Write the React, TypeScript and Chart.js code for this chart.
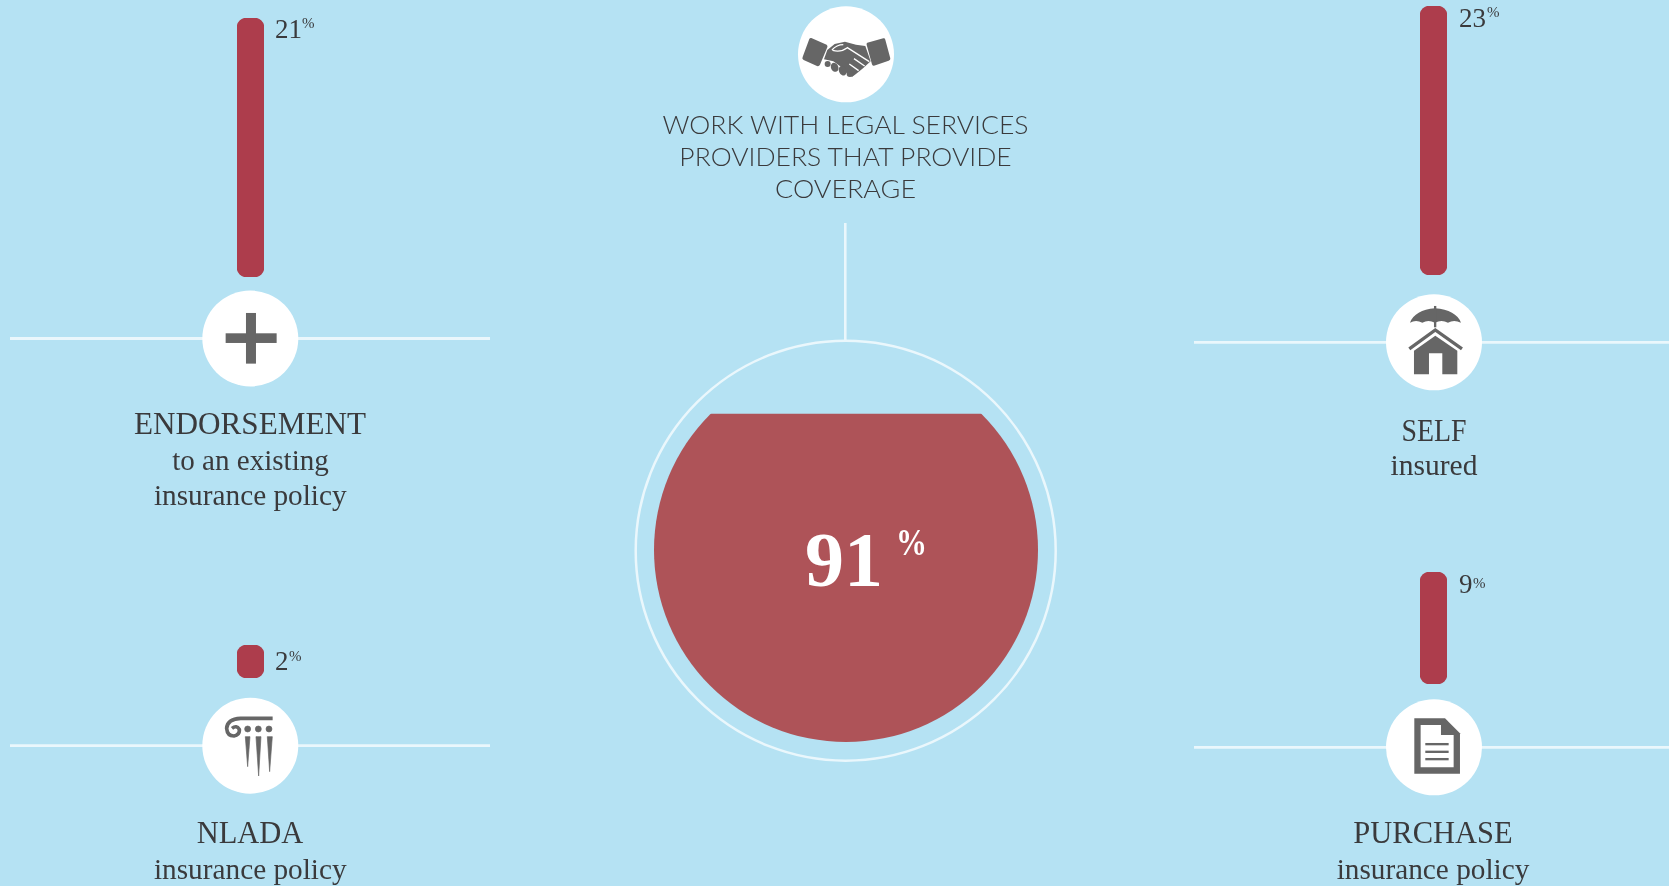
import React, { useEffect, useRef } from "react";
import { Chart, registerables } from "chart.js";

Chart.register(...registerables);

// ---- data ----
const categories = ["ENDORSEMENT", "NLADA", "SELF", "PURCHASE"];
const subtitles = [["to an existing", "insurance policy"], ["insurance policy"], ["insured"], ["insurance policy"]];
const values = [21, 2, 23, 9];
const headline = ["WORK WITH LEGAL SERVICES", "PROVIDERS THAT PROVIDE", "COVERAGE"];
const coverageValue = 91;

// ---- layout ----
const BG = "#b5e2f3";
const BAR = "#ad3d4c";
const BOWL = "#ae5358";
const ICON = "#666666";
const INK = "#3a3a3c";
const LINE = "#eaf7fc";
const SERIF = "'Liberation Serif', serif";
const SANS = "Lato, 'Open Sans', sans-serif";
const PAD = 3;

const barBoxes = [
  { left: 237, top: 17.5, width: 27, height: 259 },
  { left: 237, top: 645, width: 27, height: 33 },
  { left: 1420, top: 6, width: 27, height: 269 },
  { left: 1420, top: 572, width: 27, height: 112 },
];
const bowlBox = { left: 654, top: 358, size: 384, yMax: 106.6 };

const nodes = [
  { cx: 250.3, cy: 338.5, x1: 10, x2: 490 },
  { cx: 250.3, cy: 745.7, x1: 10, x2: 490 },
  { cx: 1434, cy: 342.3, x1: 1194, x2: 1669 },
  { cx: 1434, cy: 747.3, x1: 1194, x2: 1669 },
];
const titleText = [
  { cx: 250, y: 434, w: 232 },
  { cx: 250, y: 843.4, w: 106.7 },
  { cx: 1434, y: 440.6, w: 65 },
  { cx: 1433, y: 843.4, w: 159.3 },
];
const subText = [
  [{ cx: 250.5, y: 470, w: 156.7 }, { cx: 250.3, y: 505, w: 192.7 }],
  [{ cx: 250.3, y: 879, w: 192.7 }],
  [{ cx: 1434, y: 475, w: 87 }],
  [{ cx: 1433, y: 879, w: 192.7 }],
];
const valueText = [
  { x: 275, y: 37.7, px: 302, py: 28 },
  { x: 275, y: 670, px: 289, py: 660.7 },
  { x: 1459, y: 26.7, px: 1487, py: 17 },
  { x: 1459, y: 593, px: 1473, py: 588 },
];
const headlineText = [
  { y: 134, w: 366 },
  { y: 166, w: 332.3 },
  { y: 198, w: 141 },
];

function BarPanel({ value, label, box }: { value: number; label: string; box: (typeof barBoxes)[number] }) {
  const ref = useRef<HTMLCanvasElement>(null);
  const w = box.width + PAD * 2;
  const h = Math.round(box.height) + PAD * 2;
  useEffect(() => {
    const chart = new Chart(ref.current!, {
      type: "bar",
      data: {
        labels: [label],
        datasets: [
          {
            data: [value],
            backgroundColor: BAR,
            borderRadius: 10,
            borderSkipped: false,
            barPercentage: 1,
            categoryPercentage: 1,
          },
        ],
      },
      options: {
        animation: false,
        responsive: false,
        layout: { padding: PAD },
        plugins: { legend: { display: false }, tooltip: { enabled: false } },
        scales: {
          x: { display: false },
          y: { display: false, min: 0, max: value },
        },
      },
    });
    return () => chart.destroy();
  }, [value, label]);
  return (
    <canvas
      ref={ref}
      width={w}
      height={h}
      style={{ position: "absolute", left: box.left - PAD, top: box.top - PAD, width: w, height: h }}
    />
  );
}

const circleClip = {
  id: "circleClip",
  beforeDatasetsDraw(chart: any) {
    const { ctx, width, height } = chart;
    ctx.save();
    ctx.beginPath();
    ctx.arc(width / 2, height / 2, width / 2, 0, Math.PI * 2);
    ctx.clip();
  },
  afterDatasetsDraw(chart: any) {
    chart.ctx.restore();
  },
};

function Bowl() {
  const ref = useRef<HTMLCanvasElement>(null);
  useEffect(() => {
    const chart = new Chart(ref.current!, {
      type: "bar",
      data: {
        labels: ["Work with legal services providers that provide coverage"],
        datasets: [
          {
            data: [coverageValue],
            backgroundColor: BOWL,
            barPercentage: 1,
            categoryPercentage: 1,
          },
        ],
      },
      options: {
        animation: false,
        responsive: false,
        layout: { padding: 0 },
        plugins: { legend: { display: false }, tooltip: { enabled: false } },
        scales: {
          x: { display: false },
          y: { display: false, min: 0, max: bowlBox.yMax },
        },
      },
      plugins: [circleClip],
    });
    return () => chart.destroy();
  }, []);
  return (
    <canvas
      ref={ref}
      width={bowlBox.size}
      height={bowlBox.size}
      style={{ position: "absolute", left: bowlBox.left, top: bowlBox.top, width: bowlBox.size, height: bowlBox.size }}
    />
  );
}

function Handshake() {
  return (
    <g transform="translate(600,0) scale(0.3333)">
      <path d="M634 114 L680 134 Q684 137 682 142 L660 194 Q657 200 651 198 L611 180 Q605 177 608 171 L628 117 Q630 113 634 114Z" fill={ICON} />
      <path d="M802 128 L850 115 Q855 114 856 119 L871 175 Q872 181 866 182 L822 197 Q817 198 816 193 L800 134 Q799 129 802 128Z" fill={ICON} />
      <path d="M682 150 L704 132 L735 125 L768 134 L796 138 L812 184 L790 204 L768 222 L757 230 L742 222 L728 204 L700 184 L672 178Z" fill={ICON} />
      <circle cx="683" cy="192" r="9" fill={ICON} />
      <ellipse cx="704" cy="202" rx="11" ry="14" fill={ICON} transform="rotate(-25 704 202)" />
      <ellipse cx="728" cy="212" rx="11" ry="15" fill={ICON} transform="rotate(-25 728 212)" />
      <ellipse cx="750" cy="222" rx="10" ry="9" fill={ICON} />
      <path d="M696 150 Q710 134 730 134 M698 151 Q722 158 742 143 L808 185 M762 176 L794 198 M748 192 L776 212"
        stroke="#ffffff" strokeWidth="4" fill="none" />
    </g>
  );
}

function Plus() {
  return (
    <g transform="scale(0.3333)" fill={ICON}>
      <rect x="677" y="1000" width="153" height="29" />
      <rect x="738" y="939" width="30" height="152" />
    </g>
  );
}

function Column() {
  return (
    <g transform="translate(0,620) scale(0.3333)" fill={ICON} stroke={ICON} strokeWidth="2">
      <path d="M818 295 L722 295 Q682 297 680 325 Q682 348 702 348 Q720 345 718 328 Q710 314 696 325" fill="none" strokeWidth="11" />
      <circle cx="743" cy="327" r="9" />
      <circle cx="775" cy="327" r="9" />
      <circle cx="807" cy="327" r="9" />
      <polygon points="736,350 750,350 743,440" />
      <polygon points="768,350 783,350 776,468" />
      <polygon points="802,350 817,350 809,455" />
    </g>
  );
}

function HouseUmbrella() {
  return (
    <g transform="translate(1180,0) scale(0.3333)" fill={ICON}>
      <path d="M690 968 Q705 930 765 925 Q828 930 843 968 Q822 958 804 968 Q785 958 765 968 Q745 958 727 968 Q708 958 690 968Z" />
      <rect x="762" y="918" width="7" height="64" />
      <polyline points="688,1047 766,990 846,1047" fill="none" stroke={ICON} strokeWidth="10" />
      <polygon points="702,1052 766,1007 832,1052 832,1123 787,1123 787,1060 747,1060 747,1123 702,1123" />
    </g>
  );
}

function Document() {
  return (
    <g transform="translate(1180,560) scale(0.3333)">
      <polygon fill={ICON} points="703,475 795,475 840,520 840,641 703,641" />
      <polygon fill="#ffffff" points="722,495 783,495 783,525 821,525 821,622 722,622" />
      <rect fill={ICON} x="736" y="549" width="70" height="7" />
      <rect fill={ICON} x="736" y="572" width="70" height="7" />
      <rect fill={ICON} x="736" y="594" width="70" height="7" />
    </g>
  );
}

const icons = [<Plus key="p" />, <Column key="c" />, <HouseUmbrella key="h" />, <Document key="d" />];

export default function App() {
  return (
    <div style={{ position: "fixed", left: 0, top: 0, width: 1669, height: 886, overflow: "hidden", background: BG }}>
      {values.map((v, i) => (
        <BarPanel key={categories[i]} value={v} label={categories[i]} box={barBoxes[i]} />
      ))}
      <Bowl />
      <svg width={1669} height={886} style={{ position: "absolute", left: 0, top: 0 }}>
        {nodes.map((n, i) => (
          <g key={i}>
            <line x1={n.x1} x2={n.x2} y1={n.cy} y2={n.cy} stroke={LINE} strokeWidth={2.8} />
            <circle cx={n.cx} cy={n.cy} r={48} fill="#ffffff" />
            {icons[i]}
          </g>
        ))}
        <circle cx={846} cy={54.3} r={48} fill="#ffffff" />
        <Handshake />
        <line x1={845.3} x2={845.3} y1={223} y2={341} stroke={LINE} strokeWidth={2.6} />
        <circle cx={845.7} cy={550.7} r={210} fill="none" stroke={LINE} strokeWidth={2.5} />

        {headline.map((t, i) => (
          <text key={t} x={845.5} y={headlineText[i].y} textAnchor="middle" fontFamily={SANS} fontWeight={300} fontSize={26}
            fill={INK} textLength={headlineText[i].w} lengthAdjust="spacingAndGlyphs">{t}</text>
        ))}

        {categories.map((c, i) => (
          <text key={c} x={titleText[i].cx} y={titleText[i].y} textAnchor="middle" fontFamily={SERIF} fontSize={31}
            fill={INK} textLength={titleText[i].w} lengthAdjust="spacingAndGlyphs">{c}</text>
        ))}
        {subtitles.map((lines, i) =>
          lines.map((t, j) => (
            <text key={i + "-" + j} x={subText[i][j].cx} y={subText[i][j].y} textAnchor="middle" fontFamily={SERIF} fontSize={29}
              fill={INK} textLength={subText[i][j].w} lengthAdjust="spacingAndGlyphs">{t}</text>
          ))
        )}
        {values.map((v, i) => (
          <g key={"v" + i} fontFamily={SERIF} fill={INK}>
            <text x={valueText[i].x} y={valueText[i].y} fontSize={27}>{v}</text>
            <text x={valueText[i].px} y={valueText[i].py} fontSize={15}>%</text>
          </g>
        ))}

        <text x={805} y={586} fontFamily={SERIF} fontWeight={700} fontSize={78} fill="#ffffff">{coverageValue}</text>
        <text x={896} y={555} fontFamily={SERIF} fontWeight={700} fontSize={31} fill="#ffffff" transform="translate(896,555) scale(1,1.25) translate(-896,-555)">%</text>
      </svg>
    </div>
  );
}
